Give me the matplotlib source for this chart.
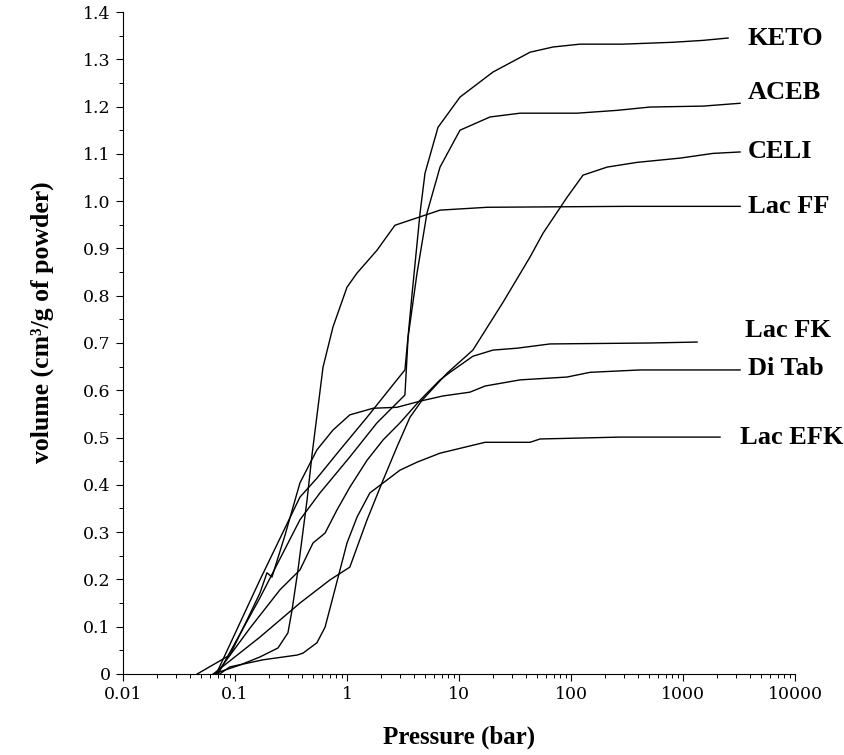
import matplotlib
matplotlib.use("Agg")
import matplotlib.pyplot as plt
from matplotlib.ticker import FixedLocator, NullFormatter, LogLocator

# pressure (bar) / volume (cm3/g)
lacff_p = [0.064, 0.111, 0.167, 0.242, 0.297, 0.323, 0.365, 0.44, 0.487, 0.611, 0.75, 1.0, 1.23, 1.85, 2.68, 6.77, 17.8, 316, 3230]
lacff_v = [0, 0.019, 0.036, 0.055, 0.087, 0.135, 0.22, 0.368, 0.463, 0.649, 0.734, 0.818, 0.848, 0.896, 0.949, 0.981, 0.987, 0.989, 0.989]

keto_p = [0.068, 0.167, 0.38, 0.539, 0.866, 1.51, 2.79, 3.29, 3.8, 4.49, 4.97, 6.49, 10.2, 20.1, 43.1, 69.1, 120, 291, 815, 1510, 2525]
keto_v = [0, 0.199, 0.374, 0.414, 0.474, 0.543, 0.622, 0.643, 0.801, 0.975, 1.059, 1.156, 1.22, 1.273, 1.315, 1.326, 1.332, 1.332, 1.336, 1.34, 1.345]

aceb_p = [0.0705, 0.167, 0.38, 0.574, 1.06, 1.85, 3.29, 3.51, 4.22, 5.18, 6.77, 10.2, 18.9, 35.1, 113, 258, 507, 1510, 3230]
aceb_v = [0, 0.161, 0.326, 0.383, 0.459, 0.531, 0.59, 0.712, 0.848, 0.975, 1.072, 1.15, 1.178, 1.186, 1.186, 1.192, 1.199, 1.201, 1.207]

celi_p = [0.064, 0.167, 0.38, 0.705, 1.06, 1.51, 2.1, 2.79, 3.65, 4.68, 7.81, 13.3, 24.7, 43.1, 56.2, 92.1, 128, 210, 388, 940, 1855, 3230]
celi_v = [0, 0.078, 0.15, 0.199, 0.226, 0.326, 0.41, 0.48, 0.543, 0.579, 0.636, 0.685, 0.786, 0.882, 0.932, 1.008, 1.055, 1.072, 1.082, 1.091, 1.101, 1.104]

lacfk_p = [0.068, 0.136, 0.252, 0.38, 0.497, 0.637, 0.814, 1.06, 1.51, 2.1, 2.97, 4.49, 6.77, 8.32, 13.3, 20.1, 33.0, 64.9, 507, 1334]
lacfk_v = [0, 0.097, 0.178, 0.22, 0.277, 0.298, 0.347, 0.395, 0.452, 0.495, 0.531, 0.579, 0.622, 0.638, 0.672, 0.685, 0.689, 0.698, 0.7, 0.702]

ditab_p = [0.046, 0.09, 0.128, 0.167, 0.193, 0.214, 0.28, 0.38, 0.539, 0.75, 1.06, 1.71, 2.79, 4.49, 7.19, 12.5, 17.1, 35.1, 92.1, 148, 413, 3230]
ditab_v = [0, 0.04, 0.114, 0.171, 0.214, 0.205, 0.294, 0.404, 0.474, 0.516, 0.548, 0.562, 0.564, 0.577, 0.588, 0.596, 0.609, 0.622, 0.628, 0.638, 0.643, 0.643]

lacefk_p = [0.073, 0.09, 0.178, 0.358, 0.404, 0.539, 0.637, 0.75, 0.866, 1.0, 1.23, 1.6, 2.1, 2.97, 4.22, 6.77, 17.1, 43.1, 52.9, 274, 2140]
lacefk_v = [0, 0.015, 0.03, 0.04, 0.044, 0.066, 0.099, 0.163, 0.22, 0.277, 0.332, 0.383, 0.404, 0.431, 0.448, 0.467, 0.49, 0.49, 0.497, 0.501, 0.501]

names = ["KETO", "ACEB", "CELI", "Lac FF", "Lac FK", "Di Tab", "Lac EFK"]
label_y = [1.345, 1.23, 1.104, 0.989, 0.727, 0.647, 0.501]

curves = [(keto_p, keto_v), (aceb_p, aceb_v), (celi_p, celi_v), (lacff_p, lacff_v),
          (lacfk_p, lacfk_v), (ditab_p, ditab_v), (lacefk_p, lacefk_v)]

plt.rcParams['font.family'] = ['Liberation Serif', 'DejaVu Serif']

fig = plt.figure(figsize=(8.44, 7.55), dpi=100)
ax = fig.add_axes([0.1457, 0.1073, 0.7963, 0.8768])

for p, v in curves:
    ax.plot(p, v, color="black", lw=1.0)

label_x = [3800, 3800, 3800, 3800, 3580, 3800, 3230]
for name, lx, ly in zip(names, label_x, label_y):
    ax.text(lx, ly, name, fontsize=19, fontweight="bold", va="center", ha="left", clip_on=False)

ax.set_xscale("log")
ax.set_xlim(0.01, 10000)
ax.set_ylim(0, 1.4)

ax.set_xticks([0.01, 0.1, 1, 10, 100, 1000, 10000])
ax.set_xticklabels(["0.01", "0.1", "1", "10", "100", "1000", "10000"])
ax.xaxis.set_minor_locator(LogLocator(base=10, subs=range(2, 10), numticks=20))
ax.xaxis.set_minor_formatter(NullFormatter())

yt = [i / 10 for i in range(15)]
ax.set_yticks(yt)
ax.set_yticklabels(["0"] + ["%.1f" % t for t in yt[1:]])
ax.yaxis.set_minor_locator(FixedLocator([i / 20 for i in range(1, 28, 2)]))

for lab in ax.get_xticklabels() + ax.get_yticklabels():
    lab.set_family("DejaVu Serif")

ax.spines["top"].set_visible(False)
ax.spines["right"].set_visible(False)
ax.tick_params(axis="both", which="major", direction="out", length=5, width=0.8, labelsize=12.5, pad=4)
ax.tick_params(axis="both", which="minor", direction="out", length=3, width=0.7)

ax.set_xlabel("Pressure (bar)", fontsize=18, fontweight="bold", labelpad=16)
ax.set_ylabel("volume (cm³/g of powder)", fontsize=18.5, fontweight="bold")
ax.yaxis.set_label_coords(-0.103, 0.532)

fig.savefig("out.png", dpi=100)
